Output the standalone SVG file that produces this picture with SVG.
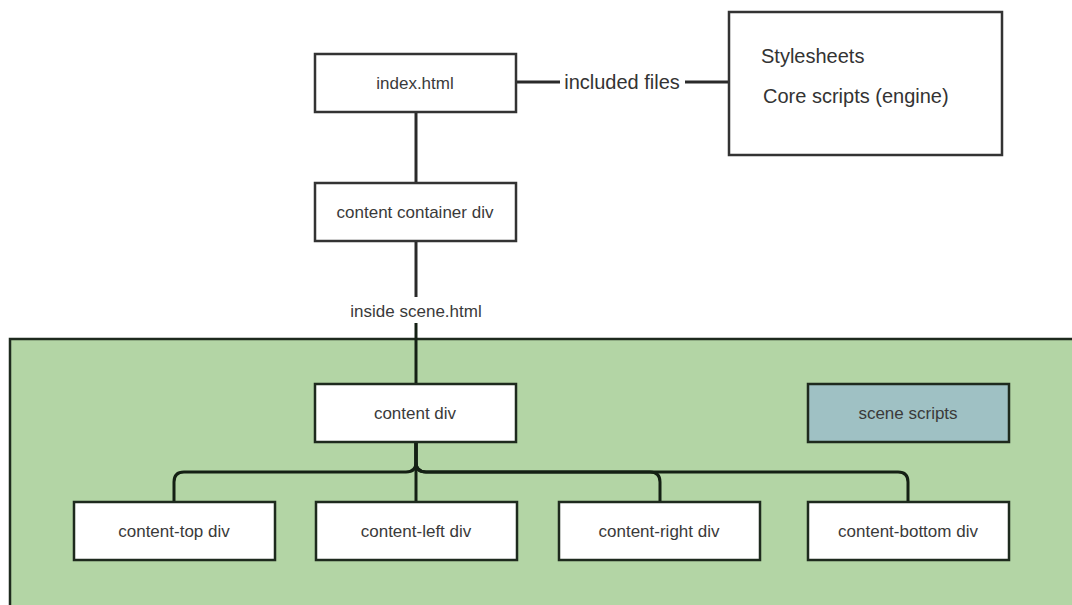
<svg xmlns="http://www.w3.org/2000/svg" width="1072" height="605" viewBox="0 0 1072 605">
  <style>
    .box { fill: #ffffff; stroke: #333333; stroke-width: 2.5; }
    .inner { fill: #ffffff; stroke: #1e2a1e; stroke-width: 2.5; }
    .script { fill: #9fc1c4; stroke: #1e2a1e; stroke-width: 2.5; }
    .lbl { font-family: "Liberation Sans", Arial, sans-serif; font-size: 17px; fill: #3a3a3a; text-anchor: middle; }
    .big { font-family: "Liberation Sans", Arial, sans-serif; font-size: 20px; fill: #333333; }
    .wire { fill: none; stroke: #2a2a2a; stroke-width: 3; }
    .wire-in { fill: none; stroke: #142014; stroke-width: 3; }
  </style>

  <rect width="1072" height="605" fill="#ffffff"/>

  <!-- scene area -->
  <g id="scene-area">
    <rect x="10" y="339" width="1075" height="280" fill="#b3d5a5" stroke="#1e2a1e" stroke-width="2.5"/>
  </g>

  <!-- connectors -->
  <g id="connectors">
    <line class="wire" x1="516" y1="82" x2="560" y2="82"/>
    <line class="wire" x1="685" y1="82" x2="729" y2="82"/>
    <text class="big" x="622" y="89" text-anchor="middle">included files</text>

    <line class="wire" x1="416" y1="112" x2="416" y2="183"/>
    <line class="wire" x1="416" y1="241" x2="416" y2="297"/>
    <text class="lbl" x="416" y="317">inside scene.html</text>
    <line class="wire-in" x1="416" y1="323" x2="416" y2="384"/>

    <path class="wire-in" d="M416,442 V462 Q416,472 406,472 H184 Q174,472 174,482 V502"/>
    <line class="wire-in" x1="416" y1="442" x2="416" y2="502"/>
    <path class="wire-in" d="M416,442 V462 Q416,472 426,472 H650 Q660,472 660,482 V502"/>
    <path class="wire-in" d="M416,442 V462 Q416,472 426,472 H898 Q908,472 908,482 V502"/>
  </g>

  <g id="index-html">
    <rect class="box" x="315" y="54" width="201" height="58"/>
    <text class="lbl" x="415" y="89">index.html</text>
  </g>

  <g id="included-files">
    <rect class="box" x="729" y="12" width="273" height="143"/>
    <text class="big" x="761" y="63">Stylesheets</text>
    <text class="big" x="763" y="103">Core scripts (engine)</text>
  </g>

  <g id="content-container">
    <rect class="box" x="315" y="183" width="201" height="58"/>
    <text class="lbl" x="415" y="218">content container div</text>
  </g>

  <g id="content-div">
    <rect class="inner" x="315" y="384" width="201" height="58"/>
    <text class="lbl" x="415" y="419">content div</text>
  </g>

  <g id="scene-scripts">
    <rect class="script" x="808" y="384" width="201" height="58"/>
    <text class="lbl" x="908" y="419">scene scripts</text>
  </g>

  <g id="content-top">
    <rect class="inner" x="74" y="502" width="201" height="58"/>
    <text class="lbl" x="174" y="537">content-top div</text>
  </g>

  <g id="content-left">
    <rect class="inner" x="316" y="502" width="201" height="58"/>
    <text class="lbl" x="416" y="537">content-left div</text>
  </g>

  <g id="content-right">
    <rect class="inner" x="559" y="502" width="201" height="58"/>
    <text class="lbl" x="659" y="537">content-right div</text>
  </g>

  <g id="content-bottom">
    <rect class="inner" x="808" y="502" width="201" height="58"/>
    <text class="lbl" x="908" y="537">content-bottom div</text>
  </g>
</svg>
